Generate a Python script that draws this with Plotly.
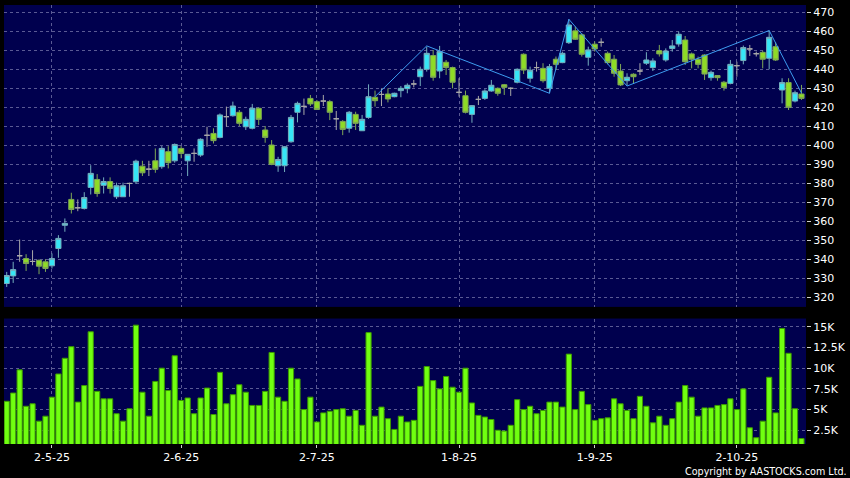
import pandas as pd
import plotly.graph_objects as go


# ---------------------------------
# DATA
# ---------------------------------

holidays = ["2025-05-01", "2025-05-05", "2025-07-01", "2025-10-01", "2025-10-07"]

days = [
    d.strftime("%Y-%m-%d")
    for d in pd.bdate_range("2025-04-22", "2025-10-17")
    if d.strftime("%Y-%m-%d") not in holidays
]

opens = [
    327.4, 331.4, 342.0, 340.5, 339.0, 339.6, 338.8, 336.7, 345.8, 358.0,
    371.6, 367.2, 366.8, 377.9, 382.1, 379.0, 381.0, 373.0, 373.0, 380.0,
    380.9, 389.1, 387.5, 391.9, 388.8, 396.7, 391.9, 398.4, 391.9, 395.8,
    394.9, 405.3, 406.3, 404.2, 415.1, 415.6, 417.4, 409.8, 409.0, 419.5,
    408.1, 400.2, 389.3, 389.3, 401.9, 417.4, 420.5, 424.7, 423.0, 423.3,
    423.0, 414.0, 412.6, 409.0, 416.3, 407.7, 414.7, 425.3, 426.8, 427.0,
    425.6, 428.8, 429.8, 432.3, 436.1, 440.0, 447.2, 439.1, 443.7, 440.9,
    427.9, 426.1, 416.3, 424.2, 424.7, 428.6, 430.0, 431.9, 430.0, 433.2,
    447.9, 435.3, 440.9, 440.5, 430.0, 445.3, 443.5, 454.0, 460.2, 458.1,
    446.3, 453.2, 454.2, 448.4, 445.3, 439.1, 434.0, 437.4, 439.1, 443.2,
    440.9, 449.8, 444.9, 450.9, 453.3, 455.4, 448.1, 445.3, 447.5, 435.6,
    436.7, 433.2, 432.6, 441.9, 444.6, 450.7, 448.2, 448.9, 445.8, 451.9,
    429.1, 433.0, 423.3, 427.0,
]

highs = [
    333.5, 338.8, 350.5, 342.8, 344.9, 340.0, 340.2, 343.2, 352.8, 361.6,
    375.1, 371.6, 375.4, 389.6, 384.9, 383.2, 383.2, 380.4, 380.4, 380.4,
    392.5, 391.9, 391.9, 398.4, 399.6, 399.6, 401.0, 399.6, 395.4, 398.4,
    403.7, 409.8, 409.0, 416.8, 420.4, 423.0, 418.6, 415.1, 421.8, 420.0,
    410.2, 402.8, 394.0, 399.6, 416.0, 423.0, 424.6, 426.5, 423.9, 426.5,
    423.9, 418.1, 413.3, 418.1, 417.7, 416.0, 432.1, 428.8, 430.0, 430.0,
    427.7, 431.2, 432.6, 434.4, 441.4, 451.9, 450.2, 452.3, 444.9, 441.4,
    435.3, 428.8, 421.2, 426.0, 429.5, 434.4, 430.5, 432.3, 430.5, 440.5,
    448.4, 441.4, 444.0, 443.2, 442.8, 446.7, 449.3, 466.3, 462.5, 459.0,
    451.9, 454.6, 456.3, 449.3, 447.5, 442.8, 437.9, 437.9, 443.2, 449.0,
    445.8, 452.8, 451.0, 455.4, 459.8, 457.5, 448.8, 446.7, 447.9, 439.3,
    437.0, 433.9, 444.9, 444.0, 452.5, 452.8, 449.3, 449.8, 460.4, 454.2,
    435.3, 435.3, 428.8, 431.8,
]

lows = [
    325.6, 327.7, 338.8, 334.0, 337.0, 332.3, 333.5, 335.3, 340.9, 354.6,
    364.2, 365.4, 366.3, 374.2, 373.0, 374.7, 374.7, 371.8, 373.0, 373.0,
    379.7, 383.9, 383.9, 385.6, 387.7, 387.9, 390.9, 393.2, 383.9, 391.4,
    394.0, 399.3, 401.0, 403.7, 409.8, 415.1, 410.2, 408.1, 408.4, 410.7,
    401.4, 389.6, 386.1, 386.0, 401.4, 412.1, 416.0, 420.7, 418.6, 420.7,
    413.3, 408.1, 405.4, 406.7, 408.1, 407.7, 414.0, 420.4, 420.7, 422.6,
    425.3, 425.3, 427.4, 430.5, 431.2, 438.8, 434.0, 435.3, 437.0, 430.0,
    425.6, 416.8, 411.9, 421.2, 423.9, 428.2, 426.1, 426.5, 426.0, 432.6,
    437.5, 433.0, 438.8, 433.0, 427.4, 439.6, 443.2, 453.3, 455.4, 446.7,
    441.9, 449.3, 451.9, 442.6, 436.1, 431.2, 431.5, 432.6, 437.0, 442.3,
    439.1, 446.7, 444.0, 449.3, 451.9, 442.3, 440.5, 440.5, 434.4, 434.0,
    434.0, 428.8, 432.1, 436.1, 442.6, 447.0, 446.7, 440.5, 440.0, 444.4,
    422.1, 418.6, 422.6, 423.9,
]

closes = [
    331.6, 334.7, 342.0, 337.9, 339.0, 336.5, 335.3, 340.5, 351.1, 359.0,
    366.3, 367.2, 372.6, 385.3, 374.7, 381.0, 377.4, 378.8, 378.8, 380.0,
    391.7, 385.6, 387.5, 387.4, 398.4, 390.9, 400.5, 395.8, 395.3, 395.8,
    403.2, 405.3, 402.5, 416.0, 415.1, 420.7, 411.6, 413.7, 419.5, 413.7,
    404.2, 390.0, 392.6, 399.3, 414.7, 422.1, 420.5, 421.8, 418.9, 423.3,
    417.4, 414.0, 408.4, 417.4, 411.6, 413.7, 425.6, 423.5, 426.8, 424.4,
    427.4, 430.0, 431.6, 432.3, 440.0, 448.4, 435.8, 449.3, 440.9, 433.2,
    427.9, 417.4, 420.9, 424.2, 428.6, 431.6, 427.4, 430.5, 430.0, 440.0,
    439.6, 439.5, 440.9, 434.0, 441.4, 442.6, 448.4, 463.3, 455.8, 447.9,
    450.2, 450.7, 454.2, 443.5, 437.9, 431.8, 435.8, 436.1, 439.1, 444.9,
    444.4, 448.1, 449.6, 452.3, 458.4, 444.0, 445.3, 442.6, 437.5, 438.4,
    435.6, 430.4, 442.6, 441.9, 451.4, 450.7, 448.2, 445.3, 456.8, 444.9,
    433.0, 420.0, 427.7, 424.7,
]

# volume in thousands of shares
volumes = [
    6.0, 7.0, 9.8, 5.4, 5.7, 3.6, 4.2, 6.5, 9.3, 11.2,
    12.6, 5.9, 7.9, 14.4, 7.2, 6.3, 6.3, 4.5, 3.6, 5.1,
    15.2, 7.1, 4.2, 8.4, 10.0, 7.3, 11.5, 6.1, 6.4, 4.5,
    6.4, 7.6, 4.4, 9.5, 5.7, 6.8, 8.0, 7.1, 5.5, 5.5,
    7.2, 11.9, 6.5, 6.0, 10.0, 8.7, 5.0, 6.5, 3.5, 4.6,
    4.8, 5.0, 5.1, 4.2, 4.9, 3.1, 14.3, 4.2, 5.3, 3.9,
    2.6, 4.2, 3.5, 3.7, 7.8, 10.2, 8.5, 7.5, 9.0, 7.7,
    7.1, 10.0, 5.8, 4.3, 4.1, 3.8, 2.5, 2.4, 3.1, 6.2,
    5.0, 5.4, 4.5, 4.9, 5.9, 5.9, 5.3, 11.7, 5.0, 7.2,
    5.6, 3.7, 3.9, 4.0, 6.3, 5.7, 4.9, 3.9, 6.6, 5.4,
    3.4, 4.2, 3.1, 3.9, 5.9, 7.9, 6.5, 4.2, 5.2, 5.2,
    5.5, 5.6, 6.3, 5.0, 7.5, 2.8, 1.6, 3.6, 8.9, 4.6,
    14.8, 11.8, 5.1, 1.5,
]

# zigzag trend line: turning days and prices
zigzag_days = [
    "2025-07-15", "2025-07-25", "2025-08-21", "2025-08-26",
    "2025-09-08", "2025-10-10", "2025-10-17"
]
zigzag_prices = [425.6, 452.3, 427.4, 466.3, 431.2, 460.4, 427.5]

tick_days = ["2025-05-02", "2025-06-02", "2025-07-02", "2025-08-01", "2025-09-01", "2025-10-02"]
tick_labels = ["2-5-25", "2-6-25", "2-7-25", "1-8-25", "1-9-25", "2-10-25"]

vol_ticks = [2.5, 5, 7.5, 10, 12.5, 15]
vol_labels = ["2.5K", "5K", "7.5K", "10K", "12.5K", "15K"]


# ---------------------------------
# SPLIT CANDLES BY DIRECTION
# ---------------------------------

def _pick(kind):

    rows = [
        i for i in range(len(days))
        if (kind == "up" and closes[i] > opens[i])
        or (kind == "down" and closes[i] < opens[i])
        or (kind == "flat" and closes[i] == opens[i])
    ]

    return dict(
        x=[days[i] for i in rows],
        open=[opens[i] for i in rows],
        high=[highs[i] for i in rows],
        low=[lows[i] for i in rows],
        close=[closes[i] for i in rows]
    )


styles = {
    "up": ("#36e6f6", "#74aebd"),
    "down": ("#8edb26", "#7fa856"),
    "flat": ("#a8a8a8", "#a8a8a8"),
}

fig = go.Figure()

for kind, (fill, line) in styles.items():

    fig.add_trace(
        go.Candlestick(
            **_pick(kind),

            xaxis="x",
            yaxis="y",

            whiskerwidth=0,

            increasing=dict(
                fillcolor=fill,
                line=dict(color=line, width=1)
            ),

            decreasing=dict(
                fillcolor=fill,
                line=dict(color=line, width=1)
            ),

            showlegend=False
        )
    )

fig.add_trace(
    go.Scatter(
        x=zigzag_days,
        y=zigzag_prices,

        xaxis="x",
        yaxis="y",

        mode="lines",

        line=dict(color="#3d9cf0", width=1),

        showlegend=False
    )
)

fig.add_trace(
    go.Bar(
        x=days,
        y=volumes,

        xaxis="x2",
        yaxis="y2",

        marker=dict(
            color="#70ff10",
            line=dict(color="#3c9a00", width=1)
        ),

        showlegend=False
    )
)


# ---------------------------------
# LAYOUT
# ---------------------------------

grid = dict(
    showgrid=True,
    gridcolor="#5a5a94",
    griddash="3px,3px",
    gridwidth=1,
    zeroline=False,
    showline=False
)

xrange = [-0.42, len(days) - 0.3]

fig.update_layout(

    width=850,
    height=478,

    margin=dict(l=4, r=41, t=5, b=34),

    paper_bgcolor="#000000",
    plot_bgcolor="#00004e",

    font=dict(family="DejaVu Sans", color="#ffffff", size=11),

    showlegend=False,

    boxgap=0.0,
    boxgroupgap=0.2,
    bargap=0.2,

    xaxis=dict(
        **grid,
        domain=[0, 1],
        anchor="y",
        type="category",
        categoryorder="array",
        categoryarray=days,
        range=xrange,
        tickvals=tick_days,
        showticklabels=False,
        ticks="",
        rangeslider=dict(visible=False)
    ),

    yaxis=dict(
        **grid,
        domain=[0.3123, 1],
        anchor="x",
        side="right",
        range=[315.1, 473.8],
        tick0=320,
        dtick=10,
        ticks="outside",
        ticklen=4,
        tickcolor="#d0d0d0",
        tickfont=dict(size=11, color="#ffffff")
    ),

    xaxis2=dict(
        **grid,
        domain=[0, 1],
        anchor="y2",
        type="category",
        categoryorder="array",
        categoryarray=days,
        range=xrange,
        tickvals=tick_days,
        ticktext=tick_labels,
        ticks="outside",
        ticklen=3,
        tickcolor="#d0d0d0",
        tickfont=dict(size=11, color="#ffffff")
    ),

    yaxis2=dict(
        **grid,
        domain=[0, 0.2858],
        anchor="x2",
        side="right",
        range=[0.84, 16.0],
        tickvals=vol_ticks,
        ticktext=vol_labels,
        ticks="outside",
        ticklen=4,
        tickcolor="#d0d0d0",
        tickfont=dict(size=11, color="#ffffff")
    ),

    annotations=[
        dict(
            text="Copyright by AASTOCKS.com Ltd.",
            xref="paper",
            yref="paper",
            x=1.053,
            y=-0.062,
            xanchor="right",
            yanchor="middle",
            showarrow=False,
            font=dict(size=9.6, color="#ffffff")
        )
    ]
)

# page body has a default 8px margin; drop it so the chart sits at 0,0
fig.write_html(
    "out.html",
    config={"displayModeBar": False},
    post_script="document.body.style.margin = '0px';"
)
